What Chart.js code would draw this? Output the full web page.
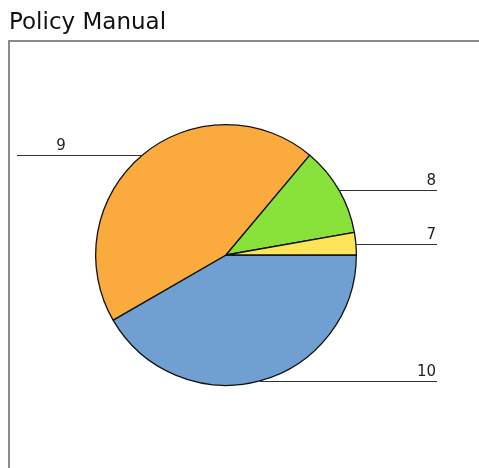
<!DOCTYPE html>
<html>
<head>
<meta charset="utf-8">
<script src="https://cdn.jsdelivr.net/npm/chart.js@4/dist/chart.umd.min.js"></script>
<style>
  html, body { margin: 0; padding: 0; background: #fff; }
  #wrap { position: relative; width: 479px; height: 468px; overflow: hidden; }
</style>
</head>
<body>
<div id="wrap"><canvas id="c" width="479" height="468"></canvas></div>
<script>
// Policy manual breakdown by grade
const titleText = 'Policy Manual';
const categories = ['10', '9', '8', '7'];
const counts = [15, 16, 4, 1];
const sliceColors = ['#709fd1', '#fbab3d', '#88e23a', '#fee45a'];

// Frame, title and leader-line labels
const decorPlugin = {
  id: 'decor',
  beforeDraw(chart) {
    const ctx = chart.ctx;
    ctx.save();
    ctx.fillStyle = '#fff';
    ctx.fillRect(0, 0, chart.width, chart.height);
    ctx.strokeStyle = '#8a8a8a';
    ctx.lineWidth = 2;
    ctx.beginPath();
    ctx.moveTo(9, chart.height + 5);
    ctx.lineTo(9, 41);
    ctx.lineTo(chart.width + 5, 41);
    ctx.stroke();
    ctx.fillStyle = '#111';
    ctx.font = '23px "DejaVu Sans", sans-serif';
    ctx.textBaseline = 'alphabetic';
    ctx.textAlign = 'left';
    ctx.fillText(titleText, 9, 29);
    ctx.restore();
  },
  afterDatasetsDraw(chart) {
    const ctx = chart.ctx;
    const meta = chart.getDatasetMeta(0);
    ctx.save();
    ctx.strokeStyle = '#333';
    ctx.lineWidth = 1;
    ctx.fillStyle = '#222';
    ctx.font = '15px "DejaVu Sans", sans-serif';
    ctx.textBaseline = 'alphabetic';
    meta.data.forEach((arc, i) => {
      const mid = (arc.startAngle + arc.endAngle) / 2;
      const r = arc.outerRadius;
      const px = arc.x + Math.cos(mid) * r;
      const py = Math.round(arc.y + Math.sin(mid) * r) + 0.5;
      const left = Math.cos(mid) < 0;
      const endX = left ? 17 : 437;
      ctx.beginPath();
      ctx.moveTo(px, py);
      ctx.lineTo(endX, py);
      ctx.stroke();
      if (left) {
        ctx.textAlign = 'center';
        ctx.fillText(categories[i], endX + 44, py - 6);
      } else {
        ctx.textAlign = 'right';
        ctx.fillText(categories[i], endX - 1, py - 6);
      }
    });
    ctx.restore();
  }
};

new Chart(document.getElementById('c'), {
  type: 'pie',
  data: {
    labels: categories,
    datasets: [{
      data: counts,
      backgroundColor: sliceColors,
      borderColor: '#111',
      borderWidth: 1.3
    }]
  },
  options: {
    responsive: false,
    animation: false,
    rotation: 90,
    layout: { padding: { left: 95, right: 122, top: 124, bottom: 82 } },
    plugins: {
      legend: { display: false },
      title: { display: false },
      tooltip: { enabled: false }
    }
  },
  plugins: [decorPlugin]
});
</script>
</body>
</html>
